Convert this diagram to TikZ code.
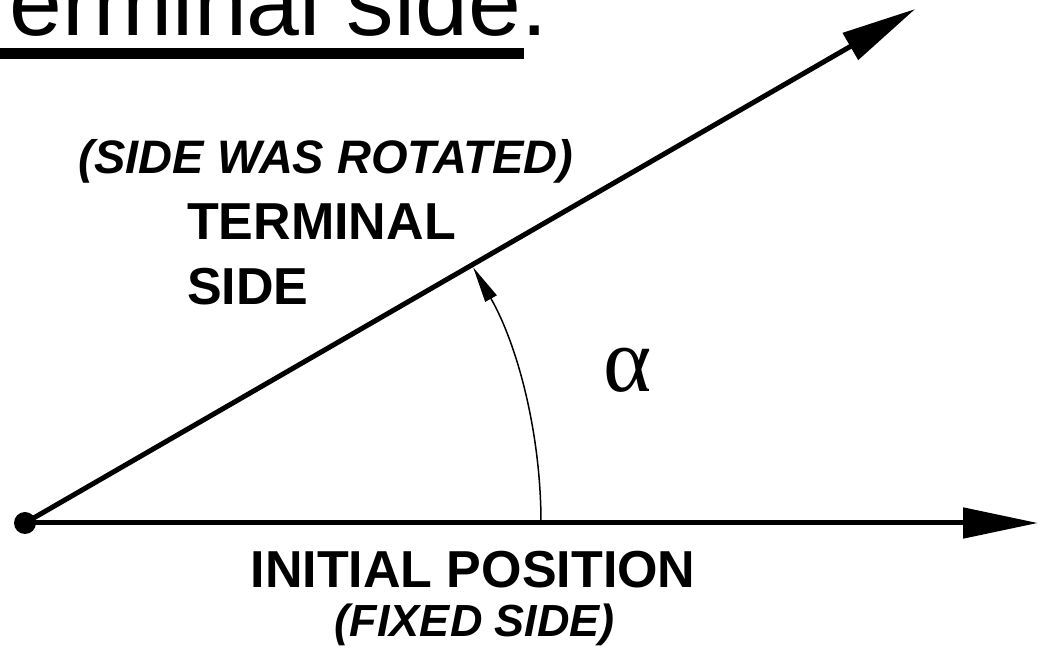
\documentclass[tikz,border=0pt]{standalone}
\usepackage{fontspec}
\setmainfont{Liberation Sans}
\newfontfamily\greekfont{Liberation Serif}
\usetikzlibrary{arrows.meta, positioning, calc}
\tikzset{
  side/.style  = {-{Triangle[length=75pt, width=30pt]}, line width=5pt},
  sweep/.style = {-{Triangle[length=36pt, width=13pt]}, line width=1.5pt},
  dot/.style   = {circle, fill, inner sep=0pt, minimum size=22pt},
  tag/.style   = {inner sep=0pt, align=left,
                  font=\bfseries\fontsize{52}{65}\selectfont},
  aside/.style = {inner sep=0pt,
                  font=\bfseries\itshape\fontsize{47}{56}\selectfont},
}

\begin{document}
\begin{tikzpicture}[x=1pt, y=1pt]
  \useasboundingbox (0,0) rectangle (1039,658);
  \clip (0,0) rectangle (1039,658);

  % title, cut off at the top edge
  \node[inner sep=0pt, anchor=base east,
        font=\fontsize{95}{110}\selectfont] (title) at (548,622)
        {Terminal side:};
  \draw[line width=11pt] ($(title.base west)+(-10,-18)$) -- ($(title.base east)+(-24,-18)$);

  % vertex and the two sides
  \node[dot] (O) at (25,135) {};
  \coordinate (T) at ($(O)+(30:1028)$);
  \coordinate (H) at (1038,135);
  \draw[side] (O.center) -- (T);
  \draw[side] (O.center) -- (H);

  % angle sweep
  \coordinate (A) at ($(O)+(516,0)$);
  \draw[sweep] (A) arc[start angle=0, end angle=29.7, radius=516];
  \node[font=\greekfont\fontsize{92}{92}\selectfont] (alpha) at (628,288) {α};

  % labels
  \node[aside, anchor=base] (rot) at (326,484) {(SIDE WAS ROTATED)};
  \node[tag, anchor=north west] (term) at (187,454) {TERMINAL\\SIDE};
  \node[tag, anchor=base] (init) at (473,70) {INITIAL POSITION};
  \node[aside, anchor=base, font=\bfseries\itshape\fontsize{45}{54}\selectfont]
        (fixed) at (475,21) {(FIXED SIDE)};

\end{tikzpicture}
\end{document}
